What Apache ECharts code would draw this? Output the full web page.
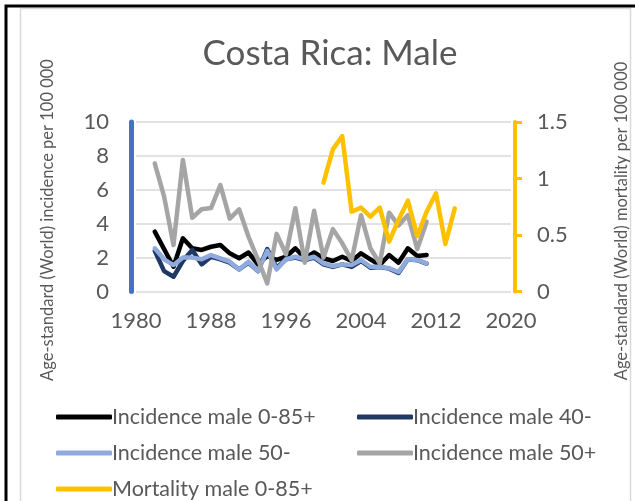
<!DOCTYPE html>
<html>
<head>
<meta charset="utf-8">
<script src="https://cdn.jsdelivr.net/npm/echarts@6/dist/echarts.min.js"></script>
<style>
html,body{margin:0;padding:0;background:#fff;}
#chart{width:635px;height:501px;}
</style>
</head>
<body>
<div id="chart"></div>
<script>
// ---- data ----
const incYears = [1982,1983,1984,1985,1986,1987,1988,1989,1990,1991,1992,1993,1994,1995,1996,1997,1998,1999,2000,2001,2002,2003,2004,2005,2006,2007,2008,2009,2010,2011];
const incAll   = [3.53,2.5,1.46,3.14,2.55,2.45,2.64,2.74,2.25,1.96,2.3,1.6,2.1,1.86,2.05,2.55,1.96,2.3,1.96,1.8,2.05,1.8,2.25,1.9,1.56,2.15,1.7,2.55,2.1,2.15];
const inc40    = [2.4,1.2,0.87,1.8,2.45,1.6,2.05,1.9,1.7,1.3,1.7,1.2,2.5,1.4,1.9,2.0,1.85,2.0,1.6,1.45,1.6,1.45,1.8,1.4,1.45,1.35,1.1,1.9,1.85,1.65];
const inc50m   = [2.55,1.9,1.56,2.0,2.0,1.9,2.15,1.96,1.76,1.3,1.76,1.2,2.4,1.3,1.9,2.05,1.9,2.05,1.66,1.5,1.6,1.56,1.86,1.46,1.46,1.37,1.15,1.9,1.86,1.66];
const inc50p   = [7.56,5.6,2.74,7.76,4.35,4.85,4.92,6.28,4.3,4.85,3.23,1.9,0.48,3.4,2.2,4.91,1.7,4.76,2.0,3.68,2.84,1.85,4.5,2.55,1.66,4.65,3.9,4.5,2.5,4.12];
const mortYears = [2000,2001,2002,2003,2004,2005,2006,2007,2008,2009,2010,2011,2012,2013,2014];
const mortAll   = [0.963,1.258,1.376,0.706,0.742,0.662,0.742,0.441,0.633,0.804,0.491,0.706,0.869,0.42,0.736];
const seriesNames = ['Incidence male 0-85+','Incidence male 40-','Incidence male 50-','Incidence male 50+','Mortality male 0-85+'];
const titleText = 'Costa Rica: Male';
const leftAxisTitle = 'Age-standard (World) incidence per 100 000';
const rightAxisTitle = 'Age-standard (World) mortality per 100 000';

const FONT = 'Lato';
const TXT = '#595959';
const pairs = (xs, ys) => xs.map((x, i) => [x, ys[i]]);

function lineSeries(name, xs, ys, color, yIdx) {
  return {
    name: name, type: 'line', yAxisIndex: yIdx, data: pairs(xs, ys),
    color: color, showSymbol: false, symbol: 'none', silent: true, animation: false,
    lineStyle: { color: color, width: 4.5, join: 'round', cap: 'round' }
  };
}

// legend placement: [series index, left, top]
const legendSlots = [[0, 51, 400], [1, 352, 400], [2, 51, 436], [3, 352, 436], [4, 51, 472]];
const legends = legendSlots.map(s => ({
  data: [seriesNames[s[0]]], left: s[1], top: s[2], orient: 'horizontal',
  itemWidth: 56, itemHeight: 5, icon: 'roundRect', selectedMode: false,
  itemStyle: { borderWidth: 0 },
  textStyle: { color: TXT, fontSize: 21.5, fontFamily: FONT, lineHeight: 24, padding: [0, 0, 0, -5] }
}));

const chart = echarts.init(document.getElementById('chart'), null, { renderer: 'canvas' });
chart.setOption({
  animation: false,
  backgroundColor: '#ffffff',
  textStyle: { fontFamily: FONT },
  title: {
    text: titleText, left: 325, top: 31, textAlign: 'center',
    textStyle: { fontFamily: FONT, fontSize: 35, fontWeight: 'normal', color: TXT }
  },
  grid: { left: 136, right: 124, top: 122, bottom: 501 - 291.5, containLabel: false },
  xAxis: {
    type: 'value', min: 1980, max: 2020, interval: 8,
    axisLine: { show: false }, axisTick: { show: false }, splitLine: { show: false },
    axisLabel: { color: TXT, fontSize: 22, fontFamily: FONT, margin: 18, showMinLabel: true, showMaxLabel: true,
      formatter: v => String(v) }
  },
  yAxis: [
    {
      type: 'value', position: 'left', min: 0, max: 10, interval: 2, offset: 5,
      axisLine: { show: true, lineStyle: { color: '#4472C4', width: 5 } },
      axisTick: { show: false },
      splitLine: { show: true, lineStyle: { color: '#D9D9D9', width: 1.5 } },
      axisLabel: { color: TXT, fontSize: 22, fontFamily: FONT, margin: 22 }
    },
    {
      type: 'value', position: 'right', min: 0, max: 1.5, interval: 0.5, offset: 4,
      axisLine: { show: true, lineStyle: { color: '#FFC000', width: 4 } },
      axisTick: { show: true, length: 7, lineStyle: { color: '#FFC000', width: 3 } },
      splitLine: { show: false },
      axisLabel: { color: TXT, fontSize: 22, fontFamily: FONT, margin: 22 }
    }
  ],
  legend: legends,
  graphic: [
    { type: 'rect', silent: true, z: -1, shape: { x: 20.5, y: 8.5, width: 610, height: 600 },
      style: { fill: null, stroke: '#D9D9D9', lineWidth: 1.5 } },
    { type: 'rect', silent: true, z: 10, shape: { x: 6, y: 6, width: 700, height: 600 },
      style: { fill: null, stroke: '#000000', lineWidth: 3 } },
    { type: 'text', silent: true, x: 48, y: 220, rotation: Math.PI / 2,
      style: { text: leftAxisTitle, fill: TXT, font: '16.5px ' + FONT, align: 'center', verticalAlign: 'middle' } },
    { type: 'text', silent: true, x: 622, y: 221, rotation: Math.PI / 2,
      style: { text: rightAxisTitle, fill: TXT, font: '16.5px ' + FONT, align: 'center', verticalAlign: 'middle' } }
  ],
  series: [
    lineSeries(seriesNames[0], incYears, incAll, '#000000', 0),
    lineSeries(seriesNames[1], incYears, inc40, '#203864', 0),
    lineSeries(seriesNames[2], incYears, inc50m, '#8FAADC', 0),
    lineSeries(seriesNames[3], incYears, inc50p, '#A5A5A5', 0),
    lineSeries(seriesNames[4], mortYears, mortAll, '#FFC000', 1)
  ]
});
</script>
</body>
</html>
